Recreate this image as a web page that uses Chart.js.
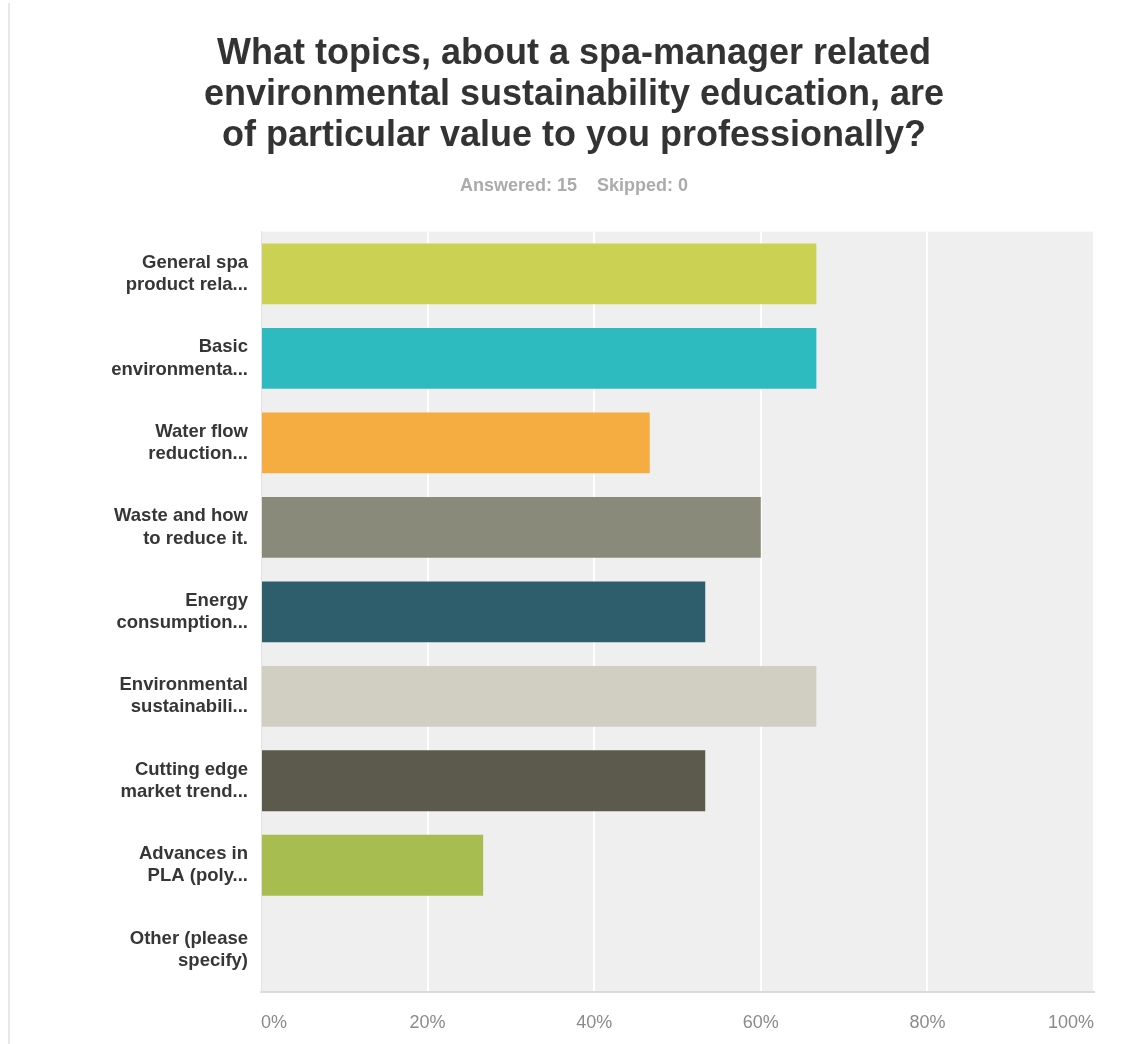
<!DOCTYPE html>
<html>
<head>
<meta charset="utf-8">
<script src="https://cdn.jsdelivr.net/npm/chart.js@4.4.1/dist/chart.umd.min.js"></script>
<style>
  html, body { margin: 0; padding: 0; background: #fff; }
  #wrap { position: relative; width: 1141px; height: 1044px; }
  #edge { position: absolute; left: 8px; top: 3px; bottom: 0; width: 2px; background: #e8e8e8; }
  canvas { position: absolute; left: 0; top: 0; }
</style>
</head>
<body>
<div id="wrap">
  <div id="edge"></div>
  <canvas id="myChart" width="1141" height="1044"></canvas>
</div>
<script>
const categories = [
  ["General spa", "product rela..."],
  ["Basic", "environmenta..."],
  ["Water flow", "reduction..."],
  ["Waste and how", "to reduce it."],
  ["Energy", "consumption..."],
  ["Environmental", "sustainabili..."],
  ["Cutting edge", "market trend..."],
  ["Advances in", "PLA (poly..."],
  ["Other (please", "specify)"],
];
// share of the 15 respondents, in percent
const responses = [66.67, 66.67, 46.67, 60, 53.33, 66.67, 53.33, 26.67, 0];
const xTicks = [0, 20, 40, 60, 80, 100];
const barColors = [
  "#CBD152", // yellow green
  "#2EBBBF", // teal
  "#F5AD41", // orange
  "#8A8A7B", // grey olive
  "#2E5E6B", // dark teal
  "#D0CFC2", // light beige
  "#5B5A4C", // dark olive
  "#A7BD50", // green
  "#6BC8CD",
];

const fontFamily = '"Liberation Sans", Arial, Helvetica, sans-serif';

// grey panel behind the bars
const plotBackground = {
  id: "plotBackground",
  beforeDraw(chart) {
    const { ctx, chartArea: a } = chart;
    ctx.save();
    ctx.fillStyle = "#EFEFEF";
    ctx.fillRect(a.left, a.top, a.right - a.left, a.bottom - a.top);
    ctx.restore();
  },
};

const ctx = document.getElementById("myChart");
const myChart = new Chart(ctx, {
  type: "bar",
  data: {
    labels: categories,
    datasets: [
      {
        data: responses,
        backgroundColor: barColors,
        barPercentage: 0.72,
        categoryPercentage: 1,
      },
    ],
  },
  options: {
    indexAxis: "y",
    responsive: false,
    animation: false,
    events: [],
    // left padding keeps the title centred on the page
    layout: { padding: { left: 54, right: 47, top: 0, bottom: 0 } },
    plugins: {
      legend: { display: false },
      tooltip: { enabled: false },
      title: {
        display: true,
        text: [
          "What topics, about a spa-manager related",
          "environmental sustainability education, are",
          "of particular value to you professionally?",
        ],
        color: "#333",
        font: { family: fontFamily, size: 36, weight: "bold", lineHeight: 1.13 },
        padding: { top: 34, bottom: 5 },
      },
      subtitle: {
        display: true,
        text: "Answered: 15    Skipped: 0",
        color: "#ababab",
        font: { family: fontFamily, size: 18, weight: "bold", lineHeight: 1.2 },
        padding: { top: 14, bottom: 35 },
      },
    },
    scales: {
      x: {
        min: 0,
        max: 100,
        afterBuildTicks: (scale) => {
          scale.ticks = xTicks.map((v) => ({ value: v }));
        },
        afterFit: (scale) => {
          scale.height = 52;
        },
        grid: {
          color: (c) => (c.index === 0 ? "rgba(0,0,0,0)" : "#ffffff"),
          lineWidth: 2,
          drawTicks: false,
        },
        border: { display: true, color: "#dadada", width: 2 },
        ticks: {
          callback: (v) => v + "%",
          align: "inner",
          padding: 20,
          color: "#8a8a8a",
          font: { family: fontFamily, size: 18 },
        },
      },
      y: {
        afterFit: (scale) => {
          scale.width = 207;
        },
        grid: { display: false, drawTicks: false },
        border: { display: true, color: "#e2e2e2", width: 1 },
        ticks: {
          padding: 13,
          color: "#363636",
          font: { family: fontFamily, size: 18.5, weight: "bold", lineHeight: 1.2 },
        },
      },
    },
  },
  plugins: [plotBackground],
});
</script>
</body>
</html>
